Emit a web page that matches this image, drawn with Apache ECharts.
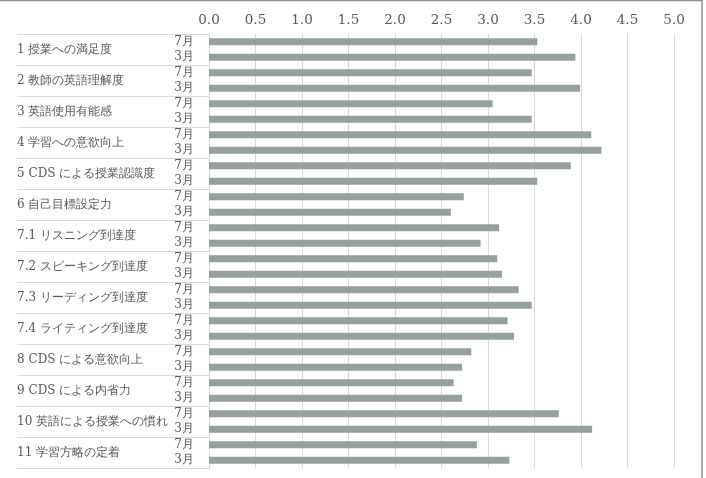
<!DOCTYPE html>
<html>
<head>
<meta charset="utf-8">
<script src="https://cdn.jsdelivr.net/npm/echarts@6/dist/echarts.min.js"></script>
<style>
  html, body { margin: 0; padding: 0; background: #fff; }
  #main { width: 706px; height: 478px; }
</style>
</head>
<body>
<div id="main"></div>
<script>
// 項目（グループ）
var groups = [
  '1 授業への満足度', '2 教師の英語理解度', '3 英語使用有能感', '4 学習への意欲向上',
  '5 CDS による授業認識度', '6 自己目標設定力', '7.1 リスニング到達度', '7.2 スピーキング到達度',
  '7.3 リーディング到達度', '7.4 ライティング到達度', '8 CDS による意欲向上', '9 CDS による内省力',
  '10 英語による授業への慣れ', '11 学習方略の定着'
];
var months = ['7月', '3月'];
var julValues = [3.53, 3.47, 3.05, 4.11, 3.89, 2.74, 3.12, 3.10, 3.33, 3.21, 2.82, 2.63, 3.76, 2.88];
var marValues = [3.94, 3.99, 3.47, 4.22, 3.53, 2.60, 2.92, 3.15, 3.47, 3.28, 2.72, 2.72, 4.12, 3.23];
var xTicks = { min: 0, max: 5, interval: 0.5 };

// 7月/3月 を交互に並べる
var rowLabels = [], rowValues = [];
groups.forEach(function (g, i) {
  rowLabels.push(months[0]); rowValues.push(julValues[i]);
  rowLabels.push(months[1]); rowValues.push(marValues[i]);
});

var chart = echarts.init(document.getElementById('main'));
var textColor = '#595959';
var lineColor = '#d9d9d9';
var serifFont = 'DejaVu Serif';

var option = {
  animation: false,
  backgroundColor: '#fff',
  grid: { left: 209, right: 32, top: 34, bottom: 10, containLabel: false },
  xAxis: {
    type: 'value',
    position: 'top',
    min: xTicks.min,
    max: xTicks.max,
    interval: xTicks.interval,
    axisLine: { show: false },
    axisTick: { show: false },
    axisLabel: {
      margin: 7,
      color: textColor,
      fontFamily: serifFont,
      fontSize: 13.5,
      formatter: function (v) { return v.toFixed(1); }
    },
    splitLine: { show: true, lineStyle: { color: lineColor, width: 1 } }
  },
  yAxis: [
    {
      type: 'category',
      inverse: true,
      position: 'left',
      data: rowLabels,
      axisLine: { show: false },
      axisTick: { show: false },
      axisLabel: {
        margin: 15,
        color: textColor,
        fontFamily: serifFont,
        fontSize: 12,
        interval: 0
      }
    },
    {
      type: 'category',
      inverse: true,
      position: 'left',
      data: groups,
      axisLine: { show: true, lineStyle: { color: lineColor, width: 1 } },
      axisTick: { show: true, length: 192, lineStyle: { color: lineColor, width: 1 } },
      axisLabel: {
        margin: 192,
        align: 'left',
        color: textColor,
        fontFamily: serifFont,
        fontSize: 12,
        interval: 0
      }
    }
  ],
  series: [{
    type: 'bar',
    yAxisIndex: 0,
    data: rowValues,
    barWidth: 7,
    itemStyle: { color: '#96a09f' },
    silent: true
  }],
  graphic: [
    { type: 'line', shape: { x1: 0, y1: 0.5, x2: 702, y2: 0.5 }, style: { stroke: '#8c8c8c', lineWidth: 1.5 } },
    { type: 'line', shape: { x1: 702, y1: 0, x2: 702, y2: 478 }, style: { stroke: '#8c8c8c', lineWidth: 1.5 } }
  ]
};

chart.setOption(option);
</script>
</body>
</html>
